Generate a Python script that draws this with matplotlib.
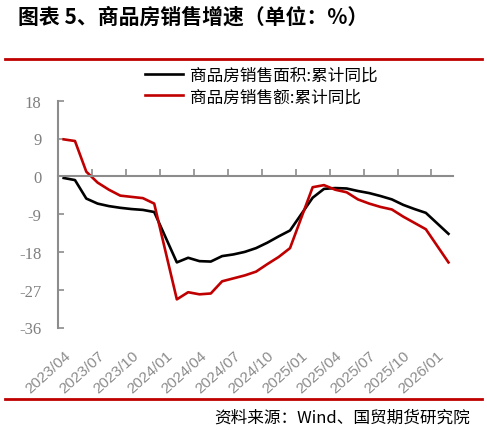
import matplotlib
matplotlib.use('Agg')
import matplotlib.pyplot as plt
from matplotlib.lines import Line2D

plt.rcParams['font.family'] = ['Noto Sans CJK SC', 'DejaVu Sans']
plt.rcParams['axes.unicode_minus'] = False

# 数据：累计同比（%），1月与2月合并发布，故无1月数据
months = ['2023/04', '2023/05', '2023/06', '2023/07', '2023/08', '2023/09',
          '2023/10', '2023/11', '2023/12',
          '2024/02', '2024/03', '2024/04', '2024/05', '2024/06', '2024/07',
          '2024/08', '2024/09', '2024/10', '2024/11', '2024/12',
          '2025/02', '2025/03', '2025/04', '2025/05', '2025/06', '2025/07',
          '2025/08', '2025/09', '2025/10', '2025/11', '2025/12',
          '2026/02']
area_yoy = [-0.4, -0.9, -5.3, -6.5, -7.1, -7.5, -7.8, -8.0, -8.5,
            -20.5, -19.4, -20.2, -20.3, -19.0, -18.6, -18.0, -17.1, -15.8, -14.3, -12.9,
            -5.1, -3.0, -2.8, -2.9, -3.5, -4.0, -4.7, -5.5, -6.8, -7.8, -8.7,
            -13.7]
amount_yoy = [8.8, 8.4, 1.1, -1.5, -3.2, -4.6, -4.9, -5.2, -6.5,
              -29.3, -27.6, -28.1, -27.9, -25.0, -24.3, -23.6, -22.7, -20.9, -19.2, -17.1,
              -2.6, -2.1, -3.2, -3.8, -5.5, -6.5, -7.3, -7.9, -9.6, -11.1, -12.6,
              -20.5]
tick_labels = ['2023/04', '2023/07', '2023/10', '2024/01', '2024/04', '2024/07',
               '2024/10', '2025/01', '2025/04', '2025/07', '2025/10', '2026/01']
label_area = '商品房销售面积:累计同比'
label_amount = '商品房销售额:累计同比'


def month_index(s, base='2023/04'):
  y, m = s.split('/')
  by, bm = base.split('/')
  return (int(y) - int(by)) * 12 + int(m) - int(bm)


x = [month_index(s) for s in months]
xt = [month_index(s) for s in tick_labels]

grey = '#8C8C8C'
fig = plt.figure(figsize=(4.87, 4.31), dpi=100)
ax = fig.add_axes([58 / 487, 1 - 328.5 / 431, 395 / 487, 226.8 / 431])

ax.plot(x, area_yoy, color='black', lw=1.9, label=label_area)
ax.plot(x, amount_yoy, color='#C00000', lw=1.9, label=label_amount)

ax.set_xlim(-0.5, 34.4)
ax.set_ylim(-36, 18)
ax.set_yticks(range(-36, 19, 9))
for s in ['top', 'right']:
  ax.spines[s].set_visible(False)
ax.spines['left'].set_color(grey)
ax.spines['left'].set_linewidth(1.5)
ax.spines['bottom'].set_position(('data', 0))
ax.spines['bottom'].set_color(grey)
ax.spines['bottom'].set_linewidth(1.5)
ax.set_xticks([t - 0.5 for t in xt])
ax.tick_params(axis='x', direction='in', length=5, width=1.2, color=grey,
               labelbottom=False)
ax.tick_params(axis='y', direction='in', length=4, width=1.2, color=grey,
               labelcolor='#7F7F7F', labelsize=12, pad=12)
for lab in ax.get_yticklabels():
  lab.set_family(['Liberation Serif', 'DejaVu Serif'])

sec = ax.secondary_xaxis('bottom')
sec.spines['bottom'].set_visible(False)
sec.set_xticks(xt)
sec.set_xticklabels(tick_labels, rotation=42, ha='right', rotation_mode='anchor',
                    family=['Liberation Sans', 'DejaVu Sans'], fontsize=11,
                    color='#8C8C8C')
sec.tick_params(axis='x', length=0, pad=15)

fig.legend(loc='upper left', bbox_to_anchor=(145 / 487, 1 - 68 / 431),
           frameon=False, fontsize=12, handlelength=2.3, handletextpad=0.4,
           labelspacing=0.25, borderpad=0, borderaxespad=0)

fig.text(18 / 487, 1 - 17 / 431, '图表 5、商品房销售增速（单位：%）', fontsize=15,
         fontweight='bold', va='center', ha='left')
fig.text(470 / 487, 1 - 418 / 431, '资料来源：Wind、国贸期货研究院', fontsize=12,
         va='center', ha='right')
fig.add_artist(Line2D([5 / 487, 482 / 487], [1 - 60 / 431] * 2, color='#C00000', lw=2))
fig.add_artist(Line2D([5 / 487, 482 / 487], [1 - 400 / 431] * 2, color='#C00000', lw=2))

fig.savefig('out.png', dpi=100)
